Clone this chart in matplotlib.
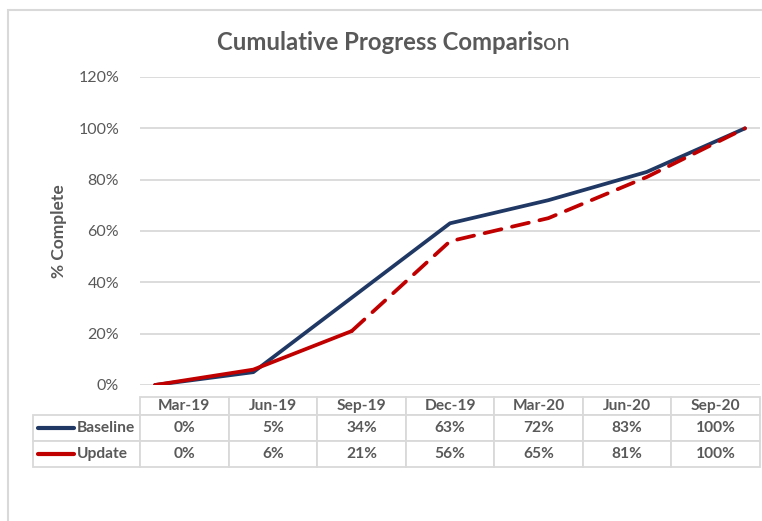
import matplotlib.pyplot as plt
from matplotlib.patches import Rectangle
from matplotlib.lines import Line2D
import numpy as np

periods = ['Mar-19', 'Jun-19', 'Sep-19', 'Dec-19', 'Mar-20', 'Jun-20', 'Sep-20']
baseline = [0, 5, 34, 63, 72, 83, 100]
update = [0, 6, 21, 56, 65, 81, 100]
series_names = ['Baseline', 'Update']
split_at = 2  # update is actual (solid) up to Sep-19, forecast (dashed) after

NAVY = '#1F3864'
RED = '#C00000'
GREY_TXT = '#595959'
GRID = '#D9D9D9'
W, H = 762, 521

plt.rcParams['font.family'] = ['Lato', 'DejaVu Sans']

fig = plt.figure(figsize=(W / 100, H / 100), dpi=100)


def fx(px):
    return px / W


def fy(py):
    return 1 - py / H


# chart area border (open at right/bottom like the cropped screenshot)
fig.patches.append(Rectangle((fx(8), fy(600)), fx(900), fy(10) - fy(600),
                             transform=fig.transFigure, fill=False,
                             edgecolor=GRID, linewidth=1.5))

ax = fig.add_axes([fx(140), fy(385), fx(760) - fx(140), fy(77) - fy(385)])

x = np.arange(len(periods))
b = np.array(baseline) / 100
u = np.array(update) / 100

ax.plot(x, b, color=NAVY, lw=2.7, solid_capstyle='round', zorder=3)
ax.plot(x[:split_at + 1], u[:split_at + 1], color=RED, lw=2.7,
        solid_capstyle='round', zorder=4)
ax.plot(x[split_at:], u[split_at:], color=RED, lw=2.7, ls=(0, (4.6, 2.9)),
        dash_capstyle='round', zorder=4)

ax.set_xlim(-0.1525, len(periods) - 1 + 0.1525)
ax.set_ylim(0, 1.2)
ax.set_yticks(np.arange(0, 1.21, 0.2))
ax.set_yticklabels([f'{int(round(v * 100))}%' for v in np.arange(0, 1.21, 0.2)])
ax.tick_params(axis='y', length=0, pad=15, labelsize=11.5, labelcolor=GREY_TXT)
ax.set_xticks([])
ax.grid(axis='y', color=GRID, lw=1.3)
ax.set_axisbelow(True)
for s in ax.spines.values():
    s.set_visible(False)
ax.set_ylabel('% Complete', fontsize=12.5, fontweight='bold', color=GREY_TXT,
              labelpad=8)

# data table under the plot
cell_text = [[''] + periods]
for vals in (baseline, update):
    cell_text.append([''] + [f'{v}%' for v in vals])
ax_w = 760 - 140
ax_h = 385 - 77
label_w = 140 - 33
col_w = (760 - 140) / len(periods)
tbl = ax.table(cellText=cell_text, cellLoc='center',
               colWidths=[label_w] + [col_w] * len(periods),
               bbox=[(33 - 140) / ax_w, (385 - 467) / ax_h,
                     (760 - 33) / ax_w, (467 - 397) / ax_h])
tbl.auto_set_font_size(False)
for (r, c), cell in tbl.get_celld().items():
    cell.set_edgecolor(GRID)
    cell.set_linewidth(1.3)
    cell.set_height(18 if r == 0 else 26)
    cell.get_text().set_fontsize(11.2)
    cell.get_text().set_fontweight('bold')
    cell.get_text().set_color(GREY_TXT)
    if r == 0 and c == 0:
        cell.visible_edges = ''

# row labels with legend swatches
colors = [NAVY, RED]
row_centers = [428, 454]
for name, col, yc in zip(series_names, colors, row_centers):
    yy = fy(yc)
    fig.add_artist(Line2D([fx(38), fx(74)], [yy, yy], color=col, lw=3.0,
                          solid_capstyle='round', transform=fig.transFigure))
    fig.text(fx(77), yy, name, ha='left', va='center', fontsize=11.2,
             fontweight='bold', color=GREY_TXT)

# title: last two letters render in the regular weight in the original
t = fig.text(fx(217), fy(42), 'Cumulative Progress Comparis', ha='left',
             va='center', fontsize=17.2, fontweight='bold', color=GREY_TXT)
fig.canvas.draw()
ax.annotate('on', xy=(1, 0), xycoords=t, xytext=(-0.5, 0),
            textcoords='offset points', ha='left', va='bottom',
            fontsize=17.2, color=GREY_TXT)

fig.savefig('out.png', dpi=100)
